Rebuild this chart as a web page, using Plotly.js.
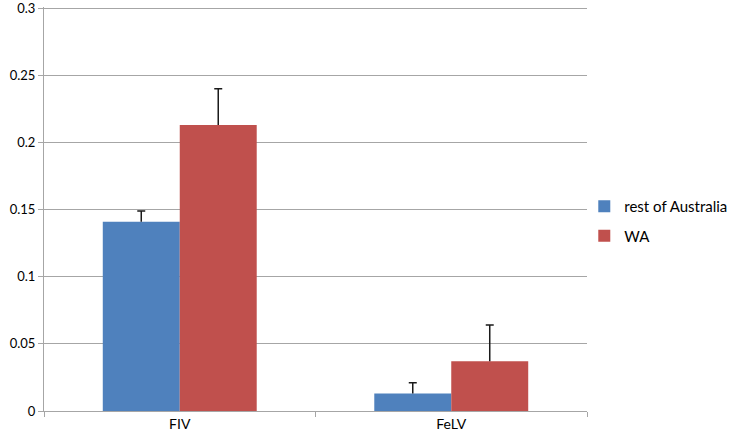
<!DOCTYPE html>
<html>
<head>
<meta charset="utf-8">
<script src="https://cdn.plot.ly/plotly-3.0.1.min.js"></script>
<style>html,body{margin:0;padding:0;background:#fff;}#chart{width:733px;height:438px;}</style>
</head>
<body>
<div id="chart"></div>
<script>
var categories = ["FIV", "FeLV"];
var seriesNames = ["rest of Australia", "WA"];
var restValues = [0.141, 0.013];
var restErrors = [0.008, 0.008];
var waValues = [0.213, 0.037];
var waErrors = [0.027, 0.027];
var yTicks = [0, 0.05, 0.1, 0.15, 0.2, 0.25, 0.3];
var yTickLabels = ["0", "0.05", "0.1", "0.15", "0.2", "0.25", "0.3"];

var font = "Lato, 'Open Sans', sans-serif";

var traces = [
  {
    type: "bar", name: seriesNames[0], x: categories, y: restValues,
    legendgroup: "a",
    marker: {color: "#4F81BD"},
    error_y: {type: "data", symmetric: false, array: restErrors, arrayminus: [0, 0], color: "#1a1a1a", thickness: 1.5, width: 4}
  },
  {
    type: "bar", name: seriesNames[1], x: categories, y: waValues,
    legendgroup: "b",
    marker: {color: "#C0504D"},
    error_y: {type: "data", symmetric: false, array: waErrors, arrayminus: [0, 0], color: "#1a1a1a", thickness: 1.5, width: 4}
  }
];

var layout = {
  width: 733, height: 438,
  margin: {l: 44, r: 146, t: 7, b: 27, autoexpand: false},
  paper_bgcolor: "#fff", plot_bgcolor: "#fff",
  font: {family: font, size: 14, color: "#000"},
  barmode: "group", bargap: 0.433, bargroupgap: 0,
  showlegend: true,
  legend: {x: 0.995, xanchor: "left", y: 0.47, yanchor: "middle", traceorder: "grouped",
           font: {family: font, size: 15, color: "#000"}, tracegroupgap: 7, itemwidth: 30, bgcolor: "rgba(0,0,0,0)"},
  xaxis: {
    type: "category", showgrid: false, showline: true, linecolor: "#a6a6a6", linewidth: 1,
    ticks: "outside", tickson: "boundaries", ticklen: 5, tickcolor: "#a6a6a6",
    tickfont: {family: font, size: 14}, zeroline: false
  },
  yaxis: {
    range: [0, 0.301], tickvals: yTicks, ticktext: yTickLabels,
    showgrid: true, gridcolor: "#a6a6a6", gridwidth: 1,
    showline: true, linecolor: "#a6a6a6", linewidth: 1,
    ticks: "outside", ticklen: 5, tickcolor: "#a6a6a6", ticklabeloverflow: "allow",
    tickfont: {family: font, size: 13}, zeroline: false
  }
};

Plotly.newPlot("chart", traces, layout, {displayModeBar: false, staticPlot: true}).then(function (gd) {
  // Excel-style plus-only error bars: drop the cap at the bar top
  var paths = gd.querySelectorAll("g.errorbar path");
  paths.forEach(function (p) {
    var d = p.getAttribute("d");
    if (!d) return;
    var m = d.match(/^(M[^m]*m[^V]*V[\d.\-e]+)/);
    if (m) p.setAttribute("d", m[1]);
  });
});
</script>
</body>
</html>
